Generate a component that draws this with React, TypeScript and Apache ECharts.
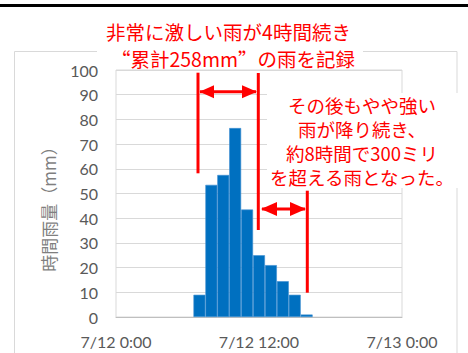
import React, { useEffect, useRef } from "react";
import * as echarts from "echarts";

const hours: string[] = [
  "7/12 0:00", "7/12 1:00", "7/12 2:00", "7/12 3:00", "7/12 4:00", "7/12 5:00",
  "7/12 6:00", "7/12 7:00", "7/12 8:00", "7/12 9:00", "7/12 10:00", "7/12 11:00",
  "7/12 12:00", "7/12 13:00", "7/12 14:00", "7/12 15:00", "7/12 16:00", "7/12 17:00",
  "7/12 18:00", "7/12 19:00", "7/12 20:00", "7/12 21:00", "7/12 22:00", "7/12 23:00",
  "7/13 0:00",
];

const rainfall: (number | null)[] = [
  null, null, null, null, null, null, null,
  9, 53.5, 57.5, 76.5, 43.5, 25, 21, 14.5, 9, 1,
  null, null, null, null, null, null, null, null,
];

const yTicks = { min: 0, max: 100, interval: 10 };
const yAxisTitle = "時間雨量（mm）";
const titleLines: string[] = ["非常に激しい雨が4時間続き", "“累計258mm”の雨を記録"];
const noteLines: string[] = [
  "その後もやや強い",
  "雨が降り続き、",
  "約8時間で300ミリ",
  "を超える雨となった。",
];

const RED = "#FF0000";
const JP = "'Noto Sans CJK JP', sans-serif";
const SC = "'Noto Sans CJK SC', 'Noto Sans CJK JP', sans-serif";
const LAT = "Lato, 'Noto Sans', sans-serif";

export default function App() {
  const ref = useRef<HTMLDivElement>(null);
  useEffect(() => {
    if (!ref.current) return;
    const chart = echarts.init(ref.current, null, { renderer: "svg" });
    const vline = (x: number, y1: number, y2: number) => ({
      type: "line", z: 100, shape: { x1: x, y1, x2: x, y2 },
      style: { stroke: RED, lineWidth: 3 },
    });
    const hline = (x1: number, x2: number, y: number) => ({
      type: "line", z: 100, shape: { x1, y1: y, x2, y2: y },
      style: { stroke: RED, lineWidth: 3 },
    });
    const head = (tip: number, base: number, y: number, h: number) => ({
      type: "polygon", z: 101,
      shape: { points: [[tip, y], [base, y - h], [base, y + h]] },
      style: { fill: RED },
    });
    const txt = (s: string, x: number, y: number, size: number, fam: string) => ({
      type: "text", z: 102, x, y,
      style: { text: s, fill: RED, font: `${size}px ${fam}`, align: "center", verticalAlign: "middle" },
    });
    chart.setOption({
      animation: false,
      backgroundColor: "#fff",
      grid: {
        left: 116, right: 66, top: 70, bottom: 36,
        show: true, borderColor: "#d9d9d9", borderWidth: 1,
      },
      xAxis: {
        type: "category",
        data: hours,
        boundaryGap: false,
        axisTick: { show: false },
        axisLine: { lineStyle: { color: "#bfbfbf" } },
        axisLabel: {
          interval: 11, color: "#595959", fontSize: 16, fontFamily: LAT, margin: 16,
          showMinLabel: true, showMaxLabel: true,
        },
        splitLine: { show: false },
      },
      yAxis: {
        type: "value",
        min: yTicks.min, max: yTicks.max, interval: yTicks.interval,
        axisLine: { show: false },
        axisTick: { show: false },
        axisLabel: { color: "#595959", fontSize: 16, fontFamily: LAT, margin: 18 },
        splitLine: { lineStyle: { color: "#d9d9d9", width: 1 } },
      },
      series: [
        {
          type: "bar",
          data: rainfall,
          barWidth: "100%",
          itemStyle: { color: "#0070C0", borderColor: "#3f8fd2", borderWidth: 0.6 },
        },
      ],
      graphic: [
        { type: "rect", z: 90, shape: { x: 0, y: 4, width: 468, height: 3 }, style: { fill: "#000" } },
        { type: "rect", z: 90, shape: { x: 14.5, y: 51.5, width: 442.5, height: 330 }, style: { fill: "none", stroke: "#d9d9d9", lineWidth: 1 } },
        { type: "rect", z: 95, shape: { x: 97, y: 18, width: 266, height: 50 }, style: { fill: "#fff" } },
        { type: "rect", z: 95, shape: { x: 267, y: 93, width: 201, height: 95 }, style: { fill: "#fff" } },
        {
          type: "text", z: 102, x: 48, y: 205, rotation: Math.PI / 2,
          style: { text: yAxisTitle, fill: "#7f7f7f", font: `17px ${SC}`, align: "center", verticalAlign: "middle" },
        },
        vline(198, 72.7, 173.3),
        vline(258.3, 73, 230),
        vline(307.3, 190.7, 292.7),
        hline(200, 256, 91.7),
        head(199.5, 214, 91.7, 6.5),
        head(257, 242, 91.7, 6.5),
        hline(262, 305, 209),
        head(261, 277, 209, 7),
        head(306, 290, 209, 7),
        txt(titleLines[0], 228.5, 31.7, 19.5, JP),
        txt(titleLines[1], 233, 58, 19.5, SC),
        {
          type: "text", z: 102, x: 362, y: 141,
          style: {
            text: noteLines.join("\n"), fill: RED, font: `18.5px ${JP}`,
            lineHeight: 23.8, align: "center", verticalAlign: "middle",
          },
        },
      ],
    });
    return () => chart.dispose();
  }, []);
  return (
    <div
      ref={ref}
      style={{ position: "fixed", left: 0, top: 0, width: 468, height: 353 }}
    />
  );
}
